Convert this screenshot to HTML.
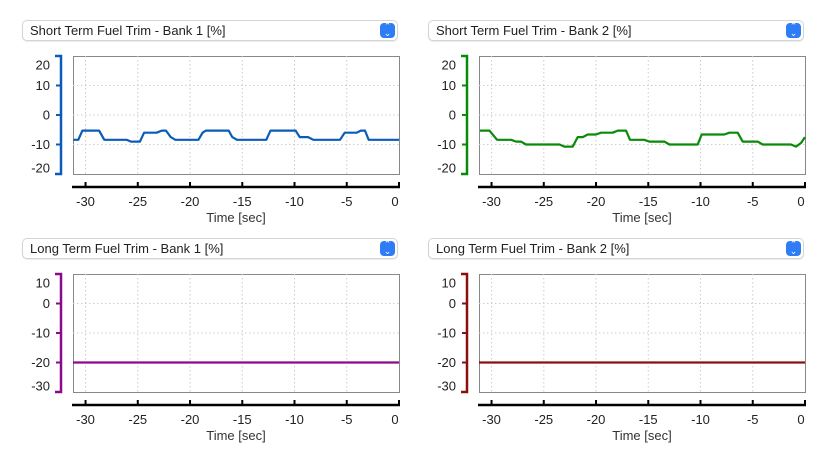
<!DOCTYPE html>
<html><head><meta charset="utf-8">
<style>
body{margin:0;width:825px;height:460px;background:#fff;font-family:"Liberation Sans",sans-serif;overflow:hidden}
.dd{position:absolute;height:19px;border:1px solid #d4d4d4;border-radius:5px;background:#fff;box-shadow:0 1px 1px rgba(0,0,0,.08);font-size:13px;color:#222;line-height:19px;padding-left:7px;box-sizing:content-box}
.dd .btn{position:absolute;right:2px;top:2px;width:15px;height:15px;border-radius:4px;background:#2f7df6;color:#fff;font-size:9px;line-height:7px;text-align:center}
svg{position:absolute;left:0;top:0}
</style></head><body>
<div class="dd" style="left:22px;top:20px;width:367px">Short Term Fuel Trim - Bank 1 [%]<div class="btn">⌃<br>⌄</div></div>
<div class="dd" style="left:428px;top:20px;width:367px">Short Term Fuel Trim - Bank 2 [%]<div class="btn">⌃<br>⌄</div></div>
<div class="dd" style="left:22px;top:238px;width:367px">Long Term Fuel Trim - Bank 1 [%]<div class="btn">⌃<br>⌄</div></div>
<div class="dd" style="left:428px;top:238px;width:367px">Long Term Fuel Trim - Bank 2 [%]<div class="btn">⌃<br>⌄</div></div>
<svg id="s" width="825" height="460"></svg>
<script>
const xTicks=[-30,-25,-20,-15,-10,-5,0];
const stTicks=[20,10,0,-10,-20];
const ltTicks=[10,0,-10,-20,-30];
const t1=[-31.17,-30.69,-30.3,-28.7,-28.2,-26.06,-25.65,-24.8,-24.4,-23.2,-22.7,-22.3,-21.85,-21.4,-19.2,-18.8,-18.5,-16.3,-15.95,-15.5,-12.7,-12.3,-9.9,-9.5,-8.7,-8.2,-5.65,-5.2,-4.05,-3.66,-3.25,-2.9,0];
const v1=[-8.4,-8.4,-5.3,-5.3,-8.4,-8.4,-9,-9,-6,-6,-5.3,-5.3,-7.5,-8.4,-8.4,-6,-5.3,-5.3,-7.5,-8.4,-8.4,-5.3,-5.3,-7.5,-7.5,-8.4,-8.4,-6,-6,-5.3,-5.3,-8.4,-8.4];
const t2=[-31.1,-30.2,-29.47,-28.13,-27.65,-27.18,-26.7,-23.5,-23.03,-22.23,-21.75,-21.27,-20.8,-20,-19.52,-18.4,-17.92,-17.13,-16.75,-15.38,-14.9,-13.46,-12.98,-10.27,-9.89,-7.72,-7.24,-6.44,-5.96,-4.53,-4.05,-1.34,-0.86,-0.38,0];
const v2=[-5.3,-5.3,-8.4,-8.4,-9,-9,-10,-10,-10.7,-10.7,-7.5,-7.5,-6.6,-6.6,-6,-6,-5.3,-5.3,-8.4,-8.4,-9,-9,-10,-10,-6.6,-6.6,-6,-6,-9,-9,-10,-10,-10.7,-9.5,-7.5];
const t3=[-31.2,0];
const v3=[-20,-20];
const t4=[-31.2,0];
const v4=[-20,-20];
const NS='http://www.w3.org/2000/svg';
const svg=document.getElementById('s');
function mk(tag,at,parent){const e=document.createElementNS(NS,tag);for(const k in at)e.setAttribute(k,at[k]);(parent||svg).appendChild(e);return e;}
function chart(name,ox,oy,ts,vs,ticks,ymin,ymax,color){
  const L=ox+73,R=ox+399,T=oy+56,B=oy+174;
  const g=mk('g',{});
  
  
  const xs=t=>R+(t)*(R-L)/31.2;
  const ys=v=>B-(v-ymin)*(B-T)/(ymax-ymin);
  const box=mk('rect',{x:L+.5,y:T+.5,width:R-L,height:B-T,fill:'none',stroke:'#888','stroke-width':1},g);
  
  
  xTicks.forEach(t=>{
    if(t>-31&&t<0){const l=mk('line',{x1:xs(t),x2:xs(t),y1:T,y2:B,stroke:'#ccc','stroke-dasharray':'1.5 2.5'},g);
    
    }
    const tk=mk('line',{x1:xs(t),x2:xs(t),y1:oy+182,y2:oy+188,stroke:'#000','stroke-width':2},g);
    
    
    const tx=mk('text',{x:Math.min(xs(t),R-4),y:oy+206,'text-anchor':'middle','font-size':13,fill:'#222'},g);
    tx.textContent=String(t);
    
    
  });
  const xa=mk('line',{x1:L-1,x2:R+1,y1:oy+187,y2:oy+187,stroke:'#000','stroke-width':2.5},g);
  
  
  const xt=mk('text',{x:(L+R)/2,y:oy+222,'text-anchor':'middle','font-size':13,fill:'#333'},g);
  xt.textContent='Time [sec]';
  
  
  const ya=mk('path',{d:`M${ox+55} ${T}H${ox+61}V${B}H${ox+55}`,fill:'none',stroke:color,'stroke-width':2.5},g);
  
  
  ticks.forEach(v=>{
    const y=ys(v);
    if(v>ymin&&v<ymax){const l=mk('line',{x1:L,x2:R,y1:y,y2:y,stroke:'#ccc','stroke-dasharray':'1.5 2.5'},g);
    
    
    const tk=mk('line',{x1:ox+56,x2:ox+61,y1:y,y2:y,stroke:color,'stroke-width':2},g);
    
    }
    const yy=Math.min(Math.max(y,T+9),B-6);
    const tx=mk('text',{x:ox+50,y:yy+4.5,'text-anchor':'end','font-size':13,fill:'#222'},g);
    tx.textContent=String(v);
    
    
  });
  const p=mk('polyline',{points:ts.map((t,i)=>xs(t).toFixed(1)+','+ys(vs[i]).toFixed(1)).join(' '),fill:'none',stroke:color,'stroke-width':2.2,'stroke-linejoin':'round'},g);
  
  
}
chart('stft-bank1-chart',0,0,t1,v1,stTicks,-20,20,'#0a5cb8');
chart('stft-bank2-chart',406,0,t2,v2,stTicks,-20,20,'#0a8a0a');
chart('ltft-bank1-chart',0,218,t3,v3,ltTicks,-30,10,'#8a0a8a');
chart('ltft-bank2-chart',406,218,t4,v4,ltTicks,-30,10,'#8a1010');
</script>
</body></html>
